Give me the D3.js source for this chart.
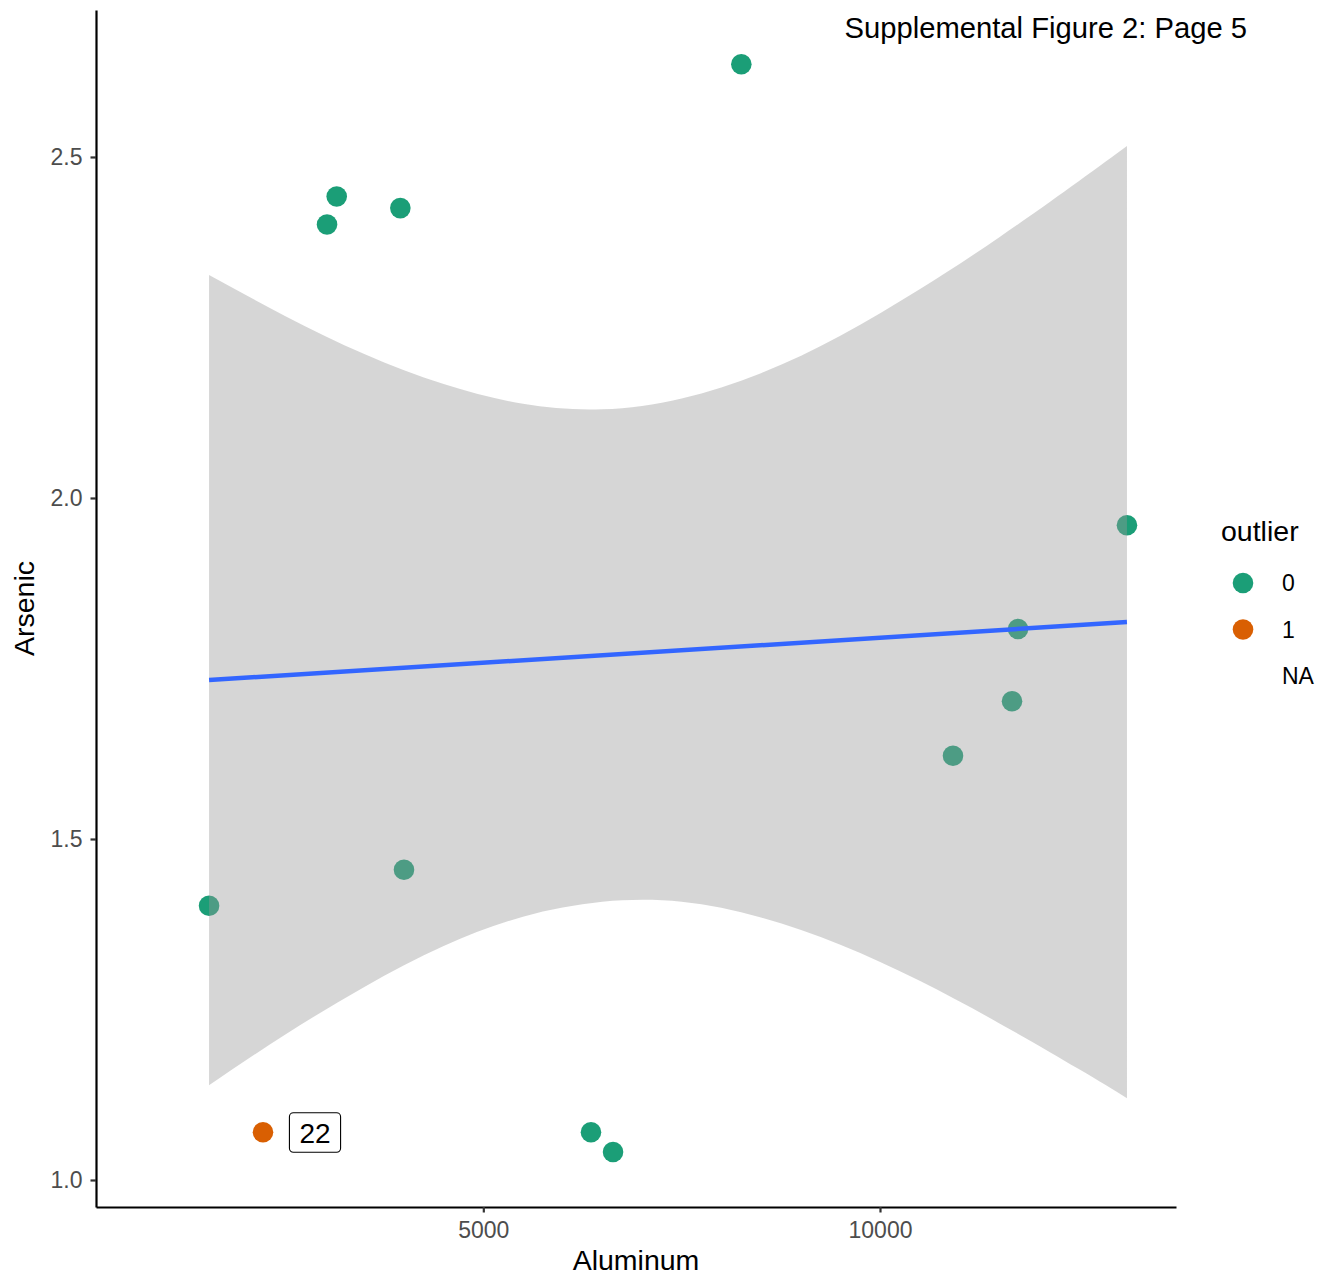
<!DOCTYPE html>
<html>
<head>
<meta charset="utf-8">
<script src="https://cdn.jsdelivr.net/npm/d3@7"></script>
<style>
  html, body { margin: 0; padding: 0; background: #fff; }
  svg { display: block; font-family: "Liberation Sans", Arial, Helvetica, sans-serif; }
</style>
</head>
<body>
<svg id="chart" width="1318" height="1278"></svg>
<script>
// ---- data ----
const aluminum = [1543, 2223, 3030, 3152, 3954, 4000, 6357, 6635, 8252, 10920, 11664, 11740, 13113];
const arsenic  = [1.402, 1.070, 2.401, 2.442, 2.425, 1.455, 1.070, 1.041, 2.636, 1.622, 1.702, 1.808, 1.960];
const outlier  = ["0", "1", "0", "0", "0", "0", "0", "0", "0", "0", "0", "0", "0"];
const pointLabels = ["", "22", "", "", "", "", "", "", "", "", "", "", ""];

// fitted line and confidence band
const fitX = [1543, 13113];
const fitY = [1.733, 1.818];
const bandX     = [1543, 2500, 3500, 4500, 5500, 6500, 7500, 8500, 9500, 10500, 11500, 12500, 13113];
const bandUpper = [2.327, 2.267, 2.211, 2.167, 2.138, 2.130, 2.146, 2.183, 2.238, 2.306, 2.382, 2.464, 2.516];
const bandLower = [1.139, 1.213, 1.283, 1.343, 1.386, 1.408, 1.408, 1.385, 1.345, 1.292, 1.230, 1.163, 1.120];

const xTicks = [5000, 10000];
const yTicks = [1.0, 1.5, 2.0, 2.5];
const legendKeys = ["0", "1", "NA"];
const legendColors = {"0": "#1B9E77", "1": "#D95F02"};

const titleText = "Supplemental Figure 2: Page 5";
const xTitle = "Aluminum";
const yTitle = "Arsenic";
const legendTitle = "outlier";

// ---- layout ----
const panel = {left: 96, right: 1176, top: 10, bottom: 1207};
const svg = d3.select("#chart");

const x = d3.scaleLinear().domain([118, 13731]).range([panel.left, panel.right]);
const y = d3.scaleLinear().domain([0.9604, 2.7155]).range([panel.bottom, panel.top]);

// points
const pts = aluminum.map((a, i) => ({x: a, y: arsenic[i], o: outlier[i], label: pointLabels[i]}));
svg.append("g").selectAll("circle").data(pts).join("circle")
  .attr("cx", d => x(d.x)).attr("cy", d => y(d.y)).attr("r", 10.3)
  .attr("fill", d => legendColors[d.o]);

// band
const band = bandX.map((bx, i) => ({x: bx, lo: bandLower[i], hi: bandUpper[i]}));
svg.append("path").datum(band)
  .attr("d", d3.area().x(d => x(d.x)).y0(d => y(d.lo)).y1(d => y(d.hi)).curve(d3.curveNatural))
  .attr("fill", "#999999").attr("fill-opacity", 0.4);

// fit line
svg.append("path").datum(fitX.map((fx, i) => ({x: fx, y: fitY[i]})))
  .attr("d", d3.line().x(d => x(d.x)).y(d => y(d.y)))
  .attr("fill", "none").attr("stroke", "#3366FF").attr("stroke-width", 4.5);

// point labels
const lab = svg.append("g").selectAll("g").data(pts.filter(d => d.label)).join("g")
  .attr("transform", d => `translate(${x(d.x) + 52},${y(d.y)})`);
lab.append("rect").attr("class", "lbox");
lab.append("text").text(d => d.label)
  .attr("text-anchor", "middle").attr("y", 10.5)
  .attr("font-size", 28).attr("fill", "#000");
lab.each(function() {
  const g = d3.select(this);
  const bb = g.select("text").node().getBBox();
  const w = bb.width + 20, h = 39.5;
  g.select("rect").attr("x", -w / 2).attr("y", -19.5).attr("width", w).attr("height", h)
    .attr("rx", 4).attr("ry", 4).attr("fill", "#fff").attr("stroke", "#000").attr("stroke-width", 1.1);
});

// axes
const xAxis = svg.append("g").attr("transform", `translate(0,${panel.bottom})`)
  .call(d3.axisBottom(x).tickValues(xTicks).tickFormat(d3.format("d")).tickSize(5.5).tickSizeOuter(0).tickPadding(9));
const yAxis = svg.append("g").attr("transform", `translate(${panel.left},0)`)
  .call(d3.axisLeft(y).tickValues(yTicks).tickFormat(d3.format(".1f")).tickSize(5.5).tickSizeOuter(0).tickPadding(8));
[xAxis, yAxis].forEach(a => {
  a.select(".domain").attr("stroke", "#000").attr("stroke-width", 2.2);
  a.selectAll(".tick line").attr("stroke", "#333").attr("stroke-width", 2.2);
  a.selectAll(".tick text").attr("fill", "#4D4D4D").attr("font-size", 23)
    .attr("font-family", "'Liberation Sans', Arial, sans-serif");
});

// axis titles
svg.append("text").attr("x", (panel.left + panel.right) / 2).attr("y", 1270)
  .attr("text-anchor", "middle").attr("font-size", 28.5).attr("fill", "#000").text(xTitle);
svg.append("text").attr("transform", `translate(34,${(panel.top + panel.bottom) / 2}) rotate(-90)`)
  .attr("text-anchor", "middle").attr("font-size", 28.5).attr("fill", "#000").text(yTitle);

// title annotation
svg.append("text").attr("x", 1247).attr("y", 38).attr("text-anchor", "end")
  .attr("font-size", 29.2).attr("fill", "#000").text(titleText);

// legend
const lg = svg.append("g");
lg.append("text").attr("x", 1221).attr("y", 541).attr("font-size", 28.5).attr("fill", "#000").text(legendTitle);
const items = lg.selectAll("g.item").data(legendKeys).join("g").attr("class", "item")
  .attr("transform", (d, i) => `translate(0,${583 + i * 46.5})`);
items.filter(d => legendColors[d]).append("circle").attr("cx", 1243).attr("cy", 0).attr("r", 10.3)
  .attr("fill", d => legendColors[d]);
items.append("text").attr("x", 1282).attr("y", 8.3).attr("font-size", 23).attr("fill", "#000").text(d => d);
</script>
</body>
</html>
